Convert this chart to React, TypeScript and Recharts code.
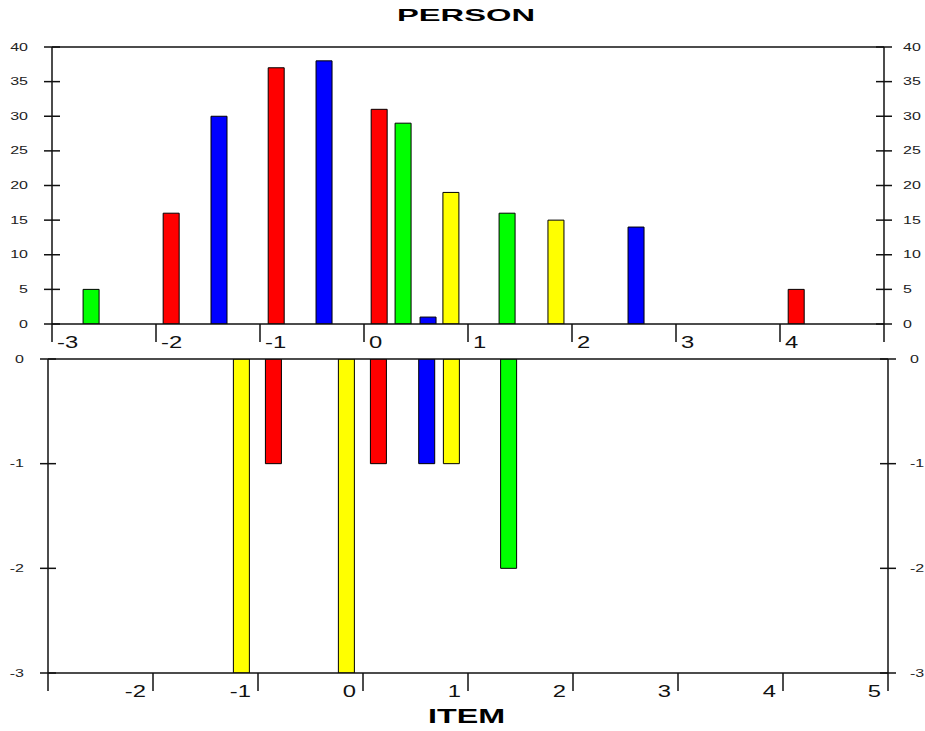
import React from 'react';
import { BarChart, Bar, XAxis, YAxis, Cell, ReferenceLine } from 'recharts';

// person distribution (top panel)
const personMeasure = [-2.62, -1.85, -1.39, -0.84, -0.38, 0.15, 0.38, 0.62, 0.84, 1.38, 1.85, 2.62, 4.16];
const personCount = [5, 16, 30, 37, 38, 31, 29, 1, 19, 16, 15, 14, 5];
const personColor = ['#00ff00', '#ff0000', '#0000ff', '#ff0000', '#0000ff', '#ff0000', '#00ff00', '#0000ff', '#ffff00', '#00ff00', '#ffff00', '#0000ff', '#ff0000'];

// item distribution (bottom panel, drawn downward)
const itemMeasure = [-1.155, -0.85, -0.155, 0.15, 0.61, 0.845, 1.39];
const itemCount = [-3, -1, -3, -1, -1, -1, -2];
const itemColor = ['#ffff00', '#ff0000', '#ffff00', '#ff0000', '#0000ff', '#ffff00', '#00ff00'];

const measureTicks = [-3, -2, -1, 0, 1, 2, 3, 4, 5];
const personTicks = [0, 5, 10, 15, 20, 25, 30, 35, 40];
const itemTicks = [-3, -2, -1, 0];

const personData = personMeasure.map((m, i) => ({ m, n: personCount[i] }));
const itemData = itemMeasure.map((m, i) => ({ m, n: itemCount[i] }));

const FONT = "Arial, 'Liberation Sans', sans-serif";
const INK = '#111';

const TopXTick = (props: any) => {
  const x = Number(props.x);
  const y = Number(props.y);
  if (props.payload.value === 5) return <g />;
  return (
    <text transform={`translate(${x + 5},${y + 6}) scale(1.4,1)`} fontSize={17} fontFamily={FONT} fill={INK}>
      {String(props.payload.value)}
    </text>
  );
};

const BottomXTick = (props: any) => {
  const x = Number(props.x);
  const y = Number(props.y);
  if (props.payload.value === -3) return <g />;
  return (
    <text transform={`translate(${x - 7},${y + 6}) scale(1.4,1)`} textAnchor="end" fontSize={17} fontFamily={FONT} fill={INK}>
      {String(props.payload.value)}
    </text>
  );
};

// tick lines are 16px long and shifted half their length so they cross the axis
const makeYTick = (side: 'left' | 'right', shift: number) => (props: any) => {
  const x = Number(props.x);
  const y = Number(props.y);
  return (
    <text
      transform={`translate(${x + shift},${y + 3.5}) scale(1.6,1)`}
      textAnchor={side === 'left' ? 'end' : 'start'}
      fontSize={10}
      fontFamily={FONT}
      fill="#222"
    >
      {String(props.payload.value)}
    </text>
  );
};

const axisLine = { stroke: INK, strokeWidth: 1.5 };
const leftTickLine = { stroke: INK, strokeWidth: 1.5, transform: 'translate(8,0)' };
const rightTickLine = { stroke: INK, strokeWidth: 1.5, transform: 'translate(-8,0)' };

const App: React.FC = () => {
  return (
    <div style={{ position: 'relative', width: 925, height: 731, background: '#fff' }}>
      <style>{`body{margin:0}`}</style>

      {/* top panel: persons */}
      <div style={{ position: 'absolute', left: 0, top: 0 }}>
        <BarChart width={925} height={355} data={personData} margin={{ top: 47, left: 22, right: 11, bottom: 1 }} barCategoryGap={0}>
          <XAxis
            dataKey="m"
            type="number"
            domain={[-3, 5]}
            ticks={measureTicks}
            interval={0}
            height={30}
            tickSize={18}
            tickMargin={0}
            axisLine={axisLine}
            tickLine={axisLine}
            tick={TopXTick}
            allowDataOverflow
          />
          <YAxis yAxisId="l" orientation="left" width={30} type="number" domain={[0, 40]} ticks={personTicks} interval={0} allowDataOverflow
            tickSize={16} tickMargin={0} tickLine={leftTickLine} axisLine={axisLine} tick={makeYTick('left', -8)} />
          <YAxis yAxisId="r" orientation="right" width={30} type="number" domain={[0, 40]} ticks={personTicks} interval={0} allowDataOverflow
            tickSize={16} tickMargin={0} tickLine={rightTickLine} axisLine={axisLine} tick={makeYTick('right', 3)} />
          <ReferenceLine yAxisId="l" y={40} stroke={INK} strokeWidth={1.5} />
          <Bar yAxisId="l" dataKey="n" barSize={16} stroke="#000" strokeWidth={1} isAnimationActive={false}>
            {personData.map((_, i) => (
              <Cell key={i} fill={personColor[i]} />
            ))}
          </Bar>
        </BarChart>
      </div>

      {/* bottom panel: items */}
      <div style={{ position: 'absolute', left: 0, top: 355 }}>
        <BarChart width={925} height={376} data={itemData} margin={{ top: 4, left: 18, right: 7, bottom: 28 }} barCategoryGap={0}>
          <XAxis
            dataKey="m"
            type="number"
            domain={[-3, 5]}
            ticks={measureTicks}
            interval={0}
            height={30}
            tickSize={18}
            tickMargin={0}
            axisLine={axisLine}
            tickLine={axisLine}
            tick={BottomXTick}
            allowDataOverflow
          />
          <YAxis yAxisId="l" orientation="left" width={30} type="number" domain={[-3, 0]} ticks={itemTicks} interval={0} allowDataOverflow
            tickSize={16} tickMargin={0} tickLine={leftTickLine} axisLine={axisLine} tick={makeYTick('left', -8)} />
          <YAxis yAxisId="r" orientation="right" width={30} type="number" domain={[-3, 0]} ticks={itemTicks} interval={0} allowDataOverflow
            tickSize={16} tickMargin={0} tickLine={rightTickLine} axisLine={axisLine} tick={makeYTick('right', 6)} />
          <ReferenceLine yAxisId="l" y={0} stroke={INK} strokeWidth={1.5} />
          <Bar yAxisId="l" dataKey="n" barSize={16} stroke="#000" strokeWidth={1} isAnimationActive={false}>
            {itemData.map((_, i) => (
              <Cell key={i} fill={itemColor[i]} />
            ))}
          </Bar>
        </BarChart>
      </div>

      {/* titles */}
      <svg width={925} height={731} style={{ position: 'absolute', left: 0, top: 0, pointerEvents: 'none' }}>
        <text x={397} y={21} fontSize={17} fontWeight="bold" fontFamily={FONT} fill="#000" textLength={138} lengthAdjust="spacingAndGlyphs">
          PERSON
        </text>
        <text x={428} y={723} fontSize={21} fontWeight="bold" fontFamily={FONT} fill="#000" textLength={77} lengthAdjust="spacingAndGlyphs">
          ITEM
        </text>
      </svg>
    </div>
  );
};

export default App;
